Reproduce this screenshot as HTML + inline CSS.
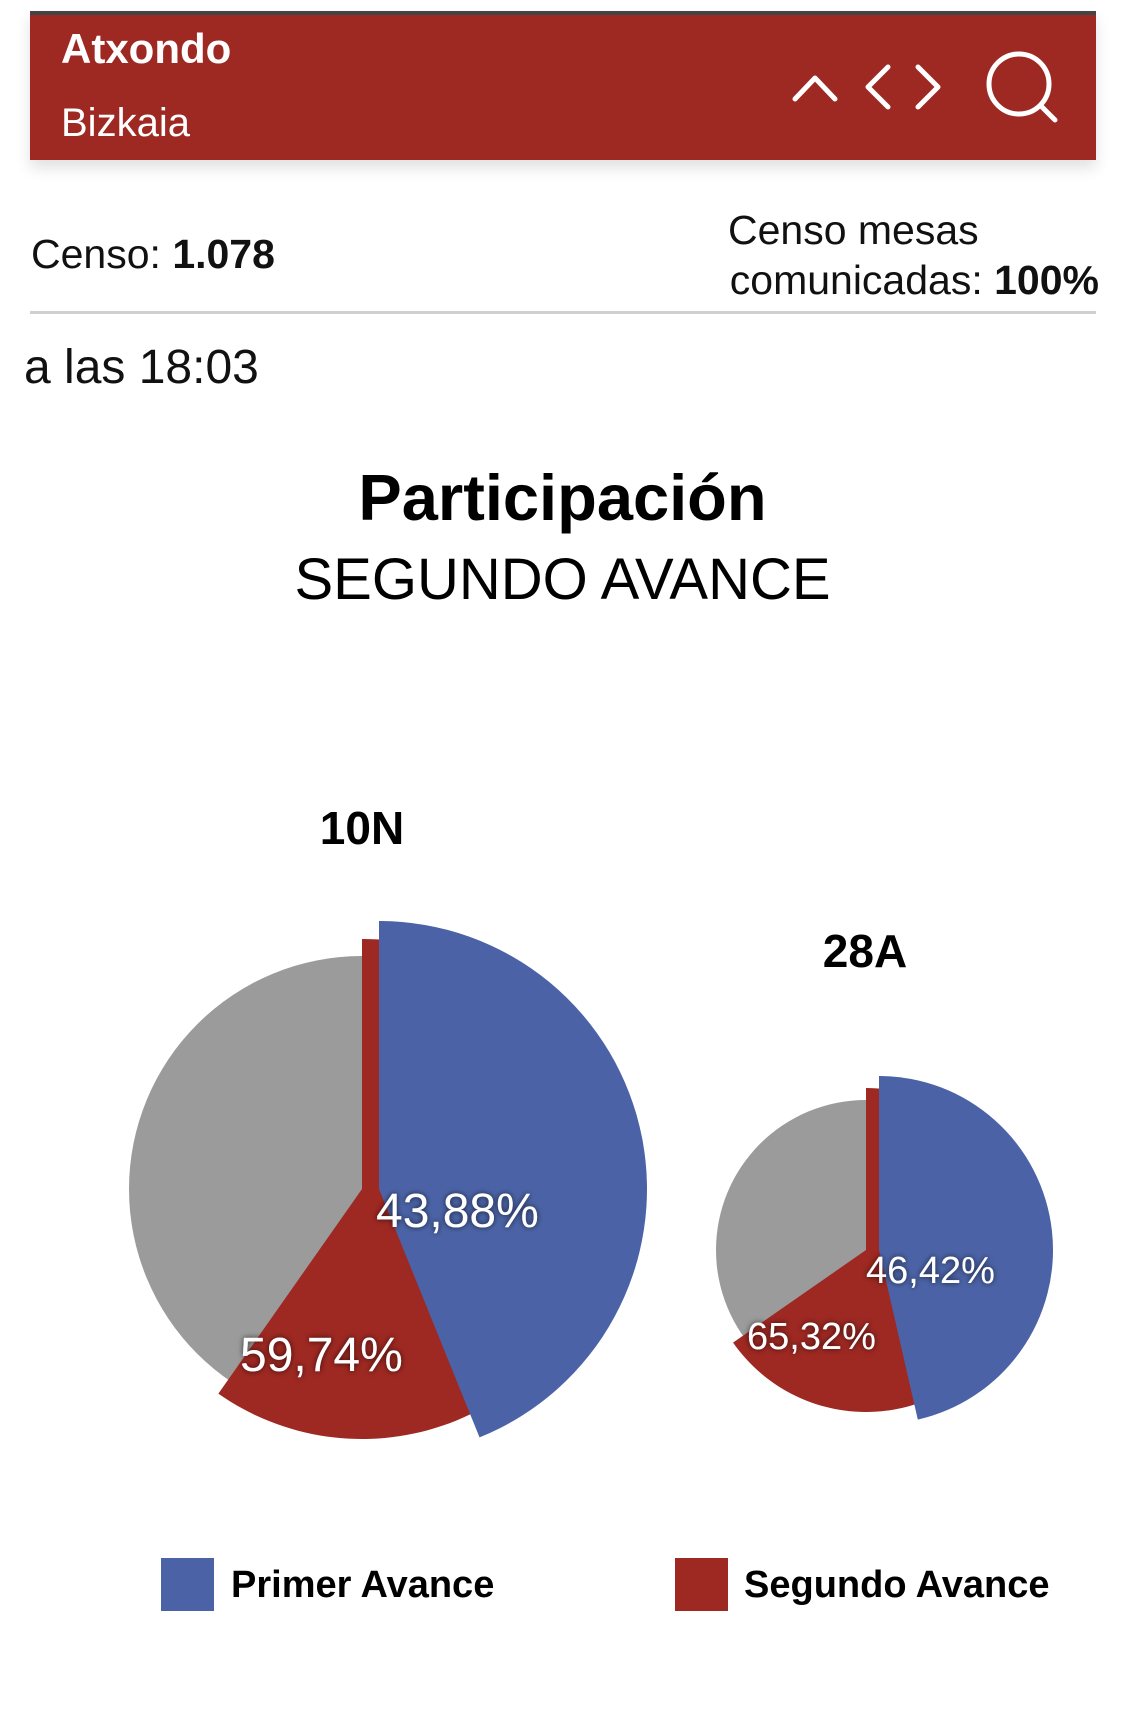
<!DOCTYPE html>
<html><head><meta charset="utf-8">
<style>
html,body{margin:0;padding:0;background:#fff;width:1125px;height:1719px;overflow:hidden;font-family:"Liberation Sans",sans-serif;}
.abs{position:absolute;}
#header{left:30px;top:11px;width:1066px;height:149px;background:#9e2822;border-top:4px solid #444;box-sizing:border-box;box-shadow:0 8px 14px rgba(0,0,0,0.12);}
</style></head><body>
<div id="header" class="abs">
  <div class="abs" style="left:31px;top:10px;color:#fff;font-weight:bold;font-size:42px;">Atxondo</div>
  <div class="abs" style="left:31px;top:86px;color:#fff;font-size:40px;">Bizkaia</div>
  <svg class="abs" style="left:0;top:0" width="1066" height="145">
    <g stroke="#fff" stroke-width="5" fill="none" stroke-linecap="round" stroke-linejoin="round">
      <polyline points="765,84 785,63 805,84"/>
      <polyline points="858,52 838,72 858,92"/>
      <polyline points="888,52 908,72 888,92"/>
      <g><circle cx="989" cy="69" r="30"/><line x1="1012" y1="92" x2="1025" y2="105"/></g>
    </g>
  </svg>
</div>
<div class="abs" style="left:31px;top:231px;font-size:41px;color:#111;">Censo: <b>1.078</b></div>
<div class="abs" style="left:728px;top:207px;font-size:41px;color:#111;white-space:nowrap;">Censo mesas</div>
<div class="abs" style="right:26px;top:257px;font-size:41px;color:#111;white-space:nowrap;">comunicadas: <b>100%</b></div>
<div class="abs" style="left:30px;top:311px;width:1066px;height:3px;background:#d0d0d0;"></div>
<div class="abs" style="left:24px;top:340px;font-size:48px;color:#111;">a las 18:03</div>
<div class="abs" style="left:0;width:1125px;top:460px;text-align:center;font-size:65px;font-weight:bold;color:#000;">Participación</div>
<div class="abs" style="left:0;width:1125px;top:546px;text-align:center;font-size:58px;color:#000;">SEGUNDO AVANCE</div>

<svg id="chart" class="abs" style="left:0;top:0" width="1125" height="1719"></svg>

<div class="abs" style="left:161px;top:1558px;">
  <div class="abs" style="left:0;top:0;width:53px;height:53px;background:#4b63a6;"></div>
  <div class="abs" style="left:70px;top:6px;white-space:nowrap;font-size:38px;font-weight:bold;color:#000;">Primer Avance</div>
</div>
<div class="abs" style="left:675px;top:1558px;">
  <div class="abs" style="left:0;top:0;width:53px;height:53px;background:#9e2822;"></div>
  <div class="abs" style="left:69px;top:6px;white-space:nowrap;font-size:38px;font-weight:bold;color:#000;">Segundo Avance</div>
</div>

<script>
const categories = ["10N", "28A"];
const primerAvance = [43.88, 46.42];
const segundoAvance = [59.74, 65.32];

const NS = "http://www.w3.org/2000/svg";
const svg = document.getElementById('chart');
const pies = [
  {cx:362, cy:1189, rg:233, rr:250, rb:268, off:17, titleX:362, titleY:844, fs:48, lblB:[376,1227], lblR:[240,1371]},
  {cx:866, cy:1250, rg:150, rr:162, rb:174, off:13, titleX:865, titleY:967, fs:38, lblB:[866,1283], lblR:[747,1349]}
];
function angle(p){ return p/100*2*Math.PI; }
function pt(cx,cy,r,a){ return [cx + r*Math.sin(a), cy - r*Math.cos(a)]; }
function sector(cx,cy,r,p){
  const a = angle(p);
  const e = pt(cx,cy,r,a);
  const large = p>50?1:0;
  return `M${cx},${cy} L${cx},${cy-r} A${r},${r} 0 ${large} 1 ${e[0]},${e[1]} Z`;
}
function mk(tag, attrs){ const el=document.createElementNS(NS,tag); for(const k in attrs) el.setAttribute(k,attrs[k]); svg.appendChild(el); return el; }
const defs = mk('defs',{});
defs.innerHTML = '<filter id="ts" x="-20%" y="-40%" width="140%" height="180%"><feDropShadow dx="0" dy="0" stdDeviation="3" flood-color="#000" flood-opacity="0.7"/></filter>';
function fmt(v){ return v.toFixed(2).replace('.',',') + '%'; }

categories.forEach((c,i)=>{
  const g = pies[i];
  const gray = mk('circle',{cx:g.cx,cy:g.cy,r:g.rg,fill:'#9b9b9b'});
  
  
  const red = mk('path',{d:sector(g.cx,g.cy,g.rr,segundoAvance[i]),fill:'#9e2822'});
  
  
  const blue = mk('path',{d:sector(g.cx+g.off,g.cy,g.rb,primerAvance[i]),fill:'#4b63a6'});
  
  
  const t = mk('text',{x:g.titleX,y:g.titleY,'text-anchor':'middle','font-size':46,'font-weight':'bold','font-family':'Liberation Sans, sans-serif',fill:'#000'});
  t.textContent = c;
  
  
  const lb = mk('text',{x:g.lblB[0],y:g.lblB[1],'font-size':g.fs,'font-family':'Liberation Sans, sans-serif',fill:'#fff',filter:'url(#ts)'});
  lb.textContent = fmt(primerAvance[i]);
  
  
  const lr = mk('text',{x:g.lblR[0],y:g.lblR[1],'font-size':g.fs,'font-family':'Liberation Sans, sans-serif',fill:'#fff',filter:'url(#ts)'});
  lr.textContent = fmt(segundoAvance[i]);
  
  
});
</script>
</body></html>
